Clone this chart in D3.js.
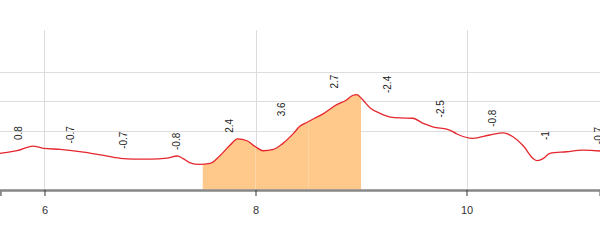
<!DOCTYPE html>
<html>
<head>
<meta charset="utf-8">
<script src="https://cdn.jsdelivr.net/npm/d3@7"></script>
<style>
    body { margin: 0; background: #fff; }
    svg { display: block; }
</style>
</head>
<body>
<div id="chart"></div>
<script>
// Elevation profile: distance (km) and elevation (m)
const distKm = [5.55, 5.58, 5.74, 5.89, 5.99, 6.15, 6.37, 6.53, 6.72, 6.84, 7.00, 7.16, 7.26, 7.31, 7.38, 7.47, 7.57, 7.66, 7.76, 7.83, 7.92, 8.00, 8.07, 8.17, 8.26, 8.36, 8.42, 8.49, 8.56, 8.64, 8.77, 8.85, 8.92, 8.96, 9.01, 9.09, 9.18, 9.28, 9.37, 9.49, 9.59, 9.68, 9.84, 9.91, 10.06, 10.22, 10.35, 10.44, 10.54, 10.63, 10.67, 10.73, 10.79, 10.95, 11.10, 11.27, 11.30];
const elevM  = [24.2, 24.6, 26.4, 29.6, 28.0, 27.3, 25.5, 23.6, 21.2, 20.7, 20.7, 21.4, 22.8, 21.2, 18.2, 17.1, 17.8, 22.8, 30.3, 34.5, 33.2, 29.1, 26.4, 27.3, 31.4, 38.2, 43.0, 45.8, 48.5, 51.5, 57.8, 60.4, 64.0, 64.6, 61.6, 55.3, 51.9, 49.3, 48.7, 48.5, 45.0, 42.7, 40.5, 37.8, 34.8, 37.1, 38.6, 35.9, 29.6, 21.2, 19.6, 21.2, 24.6, 25.7, 26.8, 26.2, 26.0];

// Gradient (%) for every 0.5 km segment
const segStart = [5.5, 6.0, 6.5, 7.0, 7.5, 8.0, 8.5, 9.0, 9.5, 10.0, 10.5, 11.0];
const segGrade = [0.8, -0.7, -0.7, -0.8, 2.4, 3.6, 2.7, -2.4, -2.5, -0.8, -1, -0.7];
const segLength = 0.5;
const steepGrade = 2; // segments steeper than this get filled

// Axis ticks
const xTicks = [6, 8, 10];
const yGrid = [40, 60, 80];

const width = 600;
const height = 240;
const plotTop = 30;
const plotBottom = 189.5;

const profile = distKm.map((d, i) => ({ km: d, elev: elevM[i] }));
const segments = segStart.map((s, i) => ({ start: s, end: s + segLength, grade: segGrade[i] }));

const x = d3.scaleLinear()
    .domain([5.5782, 11.2654])
    .range([0, width]);

const y = d3.scaleLinear()
    .domain([0, 108.6])
    .range([plotBottom, plotTop]);

const svg = d3.select("#chart")
    .append("svg")
    .attr("width", width)
    .attr("height", height);

// Grid lines
svg.append("g")
    .selectAll("line")
    .data(yGrid)
    .enter()
    .append("line")
    .attr("x1", 0)
    .attr("x2", width)
    .attr("y1", d => Math.round(y(d)) + 0.5)
    .attr("y2", d => Math.round(y(d)) + 0.5)
    .style("stroke", "#dedede")
    .style("stroke-width", 1.2);

svg.append("g")
    .selectAll("line")
    .data(xTicks)
    .enter()
    .append("line")
    .attr("x1", d => Math.round(x(d)) + 0.5)
    .attr("x2", d => Math.round(x(d)) + 0.5)
    .attr("y1", plotTop)
    .attr("y2", plotBottom)
    .style("stroke", "#dcdcdc")
    .style("stroke-width", 1);

const area = d3.area()
    .x(d => x(d.km))
    .y0(plotBottom)
    .y1(d => y(d.elev))
    .curve(d3.curveMonotoneX);

const line = d3.line()
    .x(d => x(d.km))
    .y(d => y(d.elev))
    .curve(d3.curveMonotoneX);

// Fill for the steep segments, each one clipped to its own 0.5 km
const steep = segments.filter(s => s.grade > steepGrade);
const defs = svg.append("defs");
steep.forEach((s, i) => {
    defs.append("clipPath")
        .attr("id", `seg${i}`)
        .append("rect")
        .attr("x", x(s.start))
        .attr("y", 0)
        .attr("width", x(s.end) - x(s.start))
        .attr("height", height);

    svg.append("path")
        .datum(profile)
        .attr("d", area)
        .attr("clip-path", `url(#seg${i})`)
        .style("fill", "#ffc98c");
});

// Elevation line
svg.append("path")
    .datum(profile)
    .attr("d", line)
    .style("fill", "none")
    .style("stroke", "#e5262e")
    .style("stroke-width", 1.3);

// Gradient labels, placed above the highest point of each segment
function segMax(s) {
    const pts = profile.filter(p => p.km >= s.start && p.km <= s.end);
    return d3.max(pts, p => p.elev);
}

svg.append("g")
    .selectAll("text")
    .data(segments)
    .enter()
    .append("text")
    .attr("transform", d => `translate(${x(d.start + segLength / 2)},${y(segMax(d)) - 6}) rotate(-90)`)
    .attr("dy", "0.35em")
    .attr("text-anchor", "start")
    .style("font-family", "Arial, 'Liberation Sans', sans-serif")
    .style("font-size", "10px")
    .style("fill", "#222")
    .text(d => d.grade);

// X axis
const xAxis = svg.append("g")
    .attr("transform", `translate(0,190)`)
    .call(d3.axisBottom(x)
        .tickValues(xTicks)
        .tickFormat(d3.format("d"))
        .tickSizeOuter(0)
        .tickSize(6)
        .tickPadding(10));

xAxis.select(".domain")
    .style("stroke", "#878787")
    .style("stroke-width", 2.5);

xAxis.selectAll(".tick line")
    .style("stroke", "#333");

xAxis.selectAll(".tick text")
    .style("font-family", "Arial, 'Liberation Sans', sans-serif")
    .style("font-size", "11px")
    .style("fill", "#333");
</script>
</body>
</html>
